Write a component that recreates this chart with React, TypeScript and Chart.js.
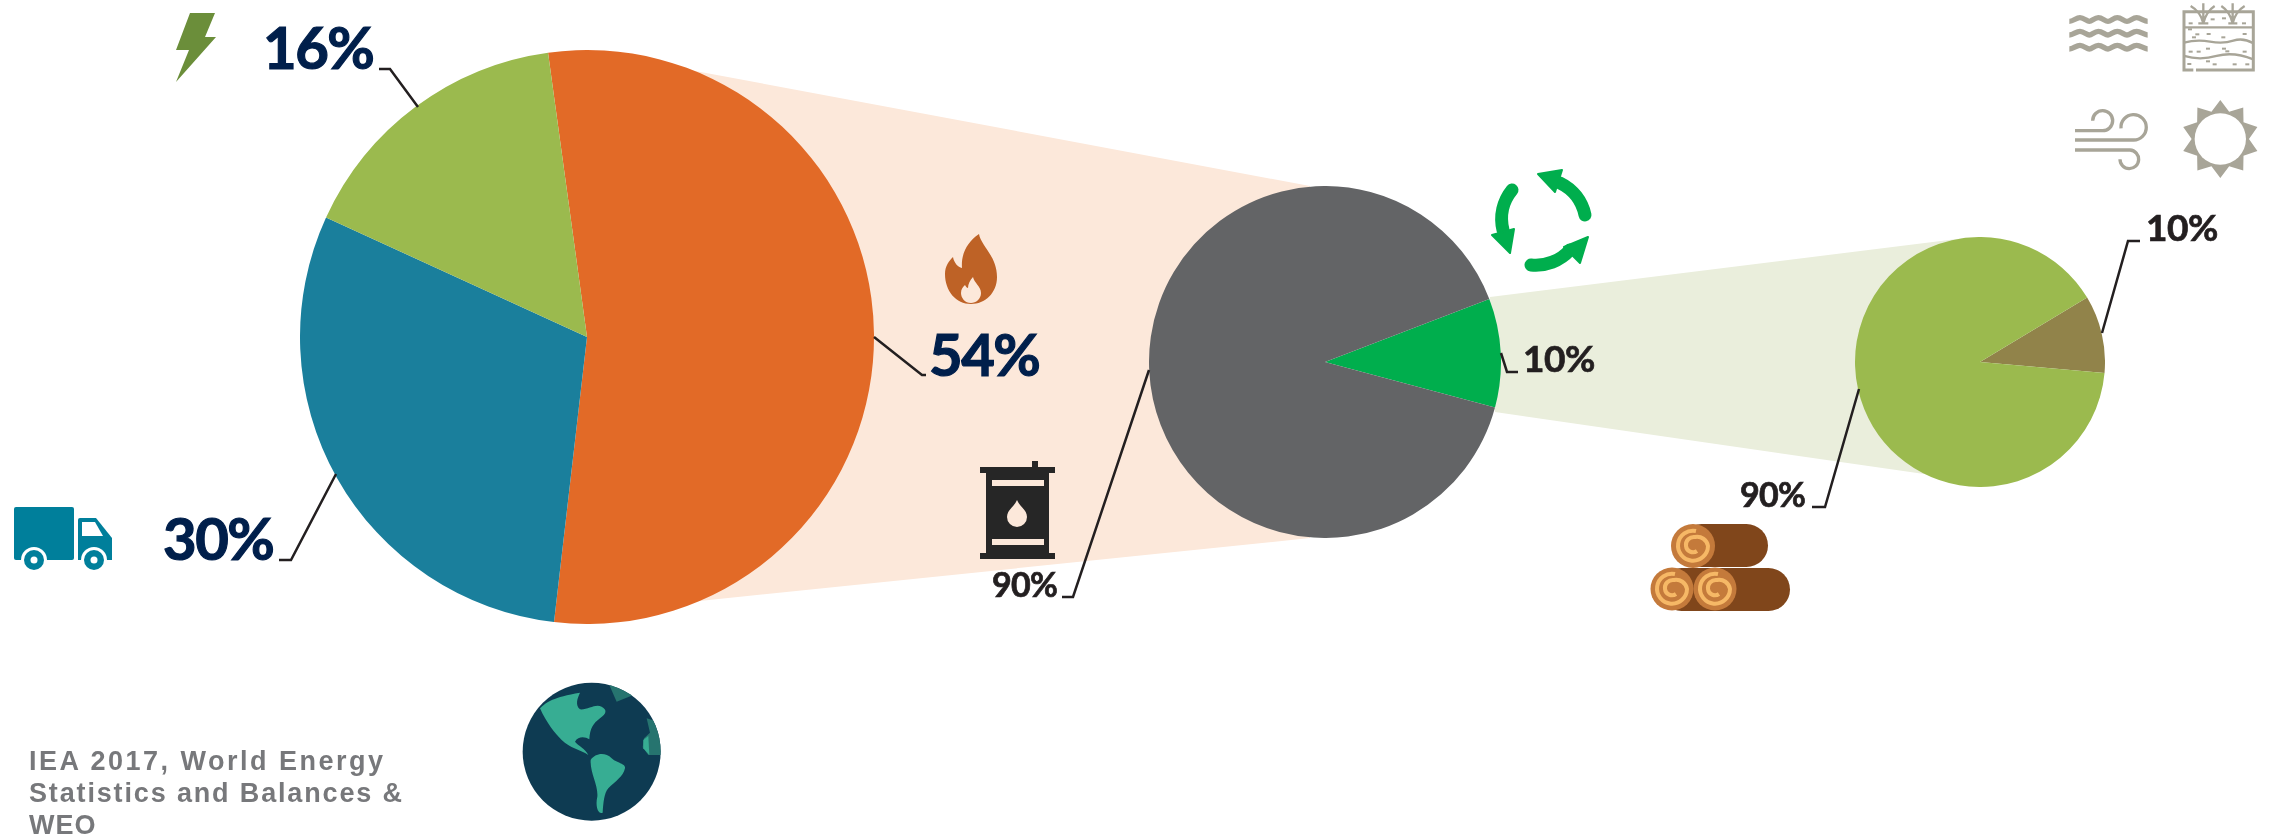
import React, { useEffect, useRef } from "react";
import { Chart, registerables } from "chart.js";

Chart.register(...registerables);

// Shares of final energy use, each pie breaking down one slice of the previous one.
const demandLabels = ["Heat", "Transport", "Electricity"];
const demandShares = [54, 30, 16];
const demandColors = ["#E26A27", "#1A7F9C", "#9BBA4E"];

const heatLabels = ["Renewable", "Fossil"];
const heatShares = [10, 90];
const heatColors = ["#00AE4D", "#636466"];

const renewableLabels = ["Other renewables", "Biomass"];
const renewableShares = [10, 90];
const renewableColors = ["#91834A", "#9BBA4E"];

const sourceLines = ["IEA 2017, World Energy", "Statistics and Balances &", "WEO"];
const sourceSpacing = [2.5, 1.85, 1];

const NAVY = "#001F4B";
const INK = "#231F20";
const STONE = "#A8A598";

const PIES = [
  { cx: 587, cy: 337, r: 287, rotation: -7.8, labels: demandLabels, data: demandShares, colors: demandColors },
  { cx: 1325, cy: 362, r: 176, rotation: 69, labels: heatLabels, data: heatShares, colors: heatColors },
  { cx: 1980, cy: 362, r: 125, rotation: 59, labels: renewableLabels, data: renewableShares, colors: renewableColors },
];

function PieCanvas({ pie }: { pie: (typeof PIES)[number] }) {
  const ref = useRef<HTMLCanvasElement>(null);
  useEffect(() => {
    const chart = new Chart(ref.current!, {
      type: "pie",
      data: {
        labels: pie.labels,
        datasets: [{ data: pie.data, backgroundColor: pie.colors, borderWidth: 0, hoverOffset: 0 }],
      },
      options: {
        animation: false,
        responsive: false,
        rotation: pie.rotation,
        layout: { padding: 0 },
        plugins: { legend: { display: false }, tooltip: { enabled: false } },
      },
    });
    return () => chart.destroy();
  }, [pie]);
  return (
    <canvas
      ref={ref}
      width={pie.r * 2}
      height={pie.r * 2}
      style={{ position: "absolute", left: pie.cx - pie.r, top: pie.cy - pie.r, width: pie.r * 2, height: pie.r * 2 }}
    />
  );
}

function Bolt() {
  return <polygon points="190,13 215,13 205,37 216,37 176,82 189,50 176,50" fill="#6B8E3A" />;
}

function Truck() {
  const c = "#007F9B";
  return (
    <g>
      <rect x={14} y={507} width={60} height={53} rx={2} fill={c} />
      <path d="M78 520 q0 -2 2 -2 H96 L112 538 V560 H78 Z" fill={c} />
      <path d="M82 522 H95 L103 536 H82 Z" fill="#fff" />
      {[34, 94].map((x) => (
        <g key={x}>
          <circle cx={x} cy={560} r={13} fill="#fff" />
          <circle cx={x} cy={560} r={10} fill={c} />
          <circle cx={x} cy={560} r={3.5} fill="#fff" />
        </g>
      ))}
    </g>
  );
}

function Flame() {
  return (
    <g>
      <path
        d="M979 234 C981 246 997 256 997 277 C997 293 985 304 971 304 C956 304 945 291 945 274 C945 266 949 261 953 257 C954 263 958 267 962 268 C961 255 966 243 979 234 Z"
        fill="#BE6226"
      />
      <path d="M973 277 C974 283 981 286 981 293 C981 299 976 303 971 303 C965 303 961 298 961 293 C961 289 963 287 965 285 C966 287 967 288 968 288 C968 284 970 280 973 277 Z" fill="#FCE8DA" />
    </g>
  );
}

function Barrel() {
  const c = "#262626";
  const band = "#FCE8DA";
  return (
    <g>
      <rect x={1032} y={461} width={6} height={7} fill={c} />
      <rect x={980} y={467} width={75} height={6} fill={c} />
      <rect x={986} y={473} width={63} height={80} fill={c} />
      <rect x={980} y={553} width={75} height={6} fill={c} />
      <rect x={992} y={480} width={52} height={6} fill={band} />
      <rect x={992} y={539} width={52} height={6} fill={band} />
      <path d="M1017 500 C1020 507 1027 510 1027 517 A10 10 0 0 1 1007 517 C1007 510 1014 507 1017 500 Z" fill={band} />
    </g>
  );
}

function RecycleArrows() {
  const c = "#00AE4D";
  return (
    <g fill={c} stroke="none">
      <path d="M1585 215 A46 46 0 0 0 1560 183" fill="none" stroke={c} strokeWidth={13} strokeLinecap="round" />
      <polygon points="1538,174 1562,170 1555,192" stroke={c} strokeWidth={2} strokeLinejoin="round" />
      <path d="M1512 190 A46 46 0 0 0 1503 230" fill="none" stroke={c} strokeWidth={13} strokeLinecap="round" />
      <polygon points="1492,235 1514,229 1510,253" stroke={c} strokeWidth={2} strokeLinejoin="round" />
      <path d="M1531 265 A46 46 0 0 0 1570 250" fill="none" stroke={c} strokeWidth={13} strokeLinecap="round" />
      <polygon points="1564,247 1588,237 1580,263" stroke={c} strokeWidth={2} strokeLinejoin="round" />
    </g>
  );
}

function LogEnd({ x, y, r }: { x: number; y: number; r: number }) {
  return (
    <g>
      <circle cx={x} cy={y} r={r} fill="#C47A3B" />
      <path
        d={`M${x + 3} ${y - 15} A15 15 0 1 0 ${x + 15} ${y} A11 11 0 0 0 ${x + 2} ${y - 9} A8 8 0 0 0 ${x - 7} ${y} A7 7 0 0 0 ${x + 4} ${y + 5}`}
        fill="none"
        stroke="#F6B866"
        strokeWidth={4}
      />
    </g>
  );
}

function Logs() {
  const body = "#80461B";
  return (
    <g>
      <rect x={1680} y={524} width={88} height={43} rx={21.5} fill={body} />
      <rect x={1660} y={568} width={130} height={43} rx={21.5} fill={body} />
      <LogEnd x={1693} y={546} r={22} />
      <LogEnd x={1672} y={589} r={21.5} />
      <LogEnd x={1715} y={589} r={21.5} />
    </g>
  );
}

function Globe() {
  return (
    <g transform="translate(500 660) scale(0.3333)">
      <defs>
        <clipPath id="earth">
          <circle cx={275} cy={275} r={207} />
        </clipPath>
      </defs>
      <circle cx={275} cy={275} r={207} fill="#0E3B52" />
      <g clipPath="url(#earth)">
        <path d="M325 68 L420 70 L400 105 L350 125 Z" fill="#26746F" />
        <path d="M440 175 L490 190 L490 285 L445 285 L428 262 L432 235 L450 218 Z" fill="#26746F" />
        <path
          d="M120 145 C140 125 160 112 240 98 C232 115 225 135 240 148 C265 150 285 130 305 140 C322 150 320 160 300 175 C280 190 270 205 268 238 C255 230 235 228 225 245 C235 258 255 265 265 285 C240 268 210 265 185 240 C165 220 140 190 120 145 Z"
          fill="#37AD93"
        />
        <path
          d="M272 300 C285 280 315 275 335 295 C350 310 378 310 375 325 C370 350 345 365 325 385 C312 400 310 430 308 458 C295 465 285 440 292 410 C295 375 270 340 272 300 Z"
          fill="#37AD93"
        />
        <path d="M430 240 L445 228 L448 285 L430 265 Z" fill="#37AD93" />
      </g>
    </g>
  );
}

function Waves() {
  const wave = (y: number) =>
    `M88 ${y} C100 ${y} 108 ${y - 11} 120 ${y - 11} S140 ${y} 148 ${y} S163 ${y - 11} 175 ${y - 11} S195 ${y} 204 ${y} S220 ${y - 11} 232 ${y - 11} S252 ${y} 261 ${y} S278 ${y - 11} 290 ${y - 11} S312 ${y} 323 ${y}`;
  return (
    <g fill="none" stroke={STONE} strokeWidth={16}>
      {[64, 105, 147].map((y) => (
        <path key={y} d={wave(y)} />
      ))}
    </g>
  );
}

function Soil() {
  const specks = [
    [452, 70], [518, 58], [552, 55], [612, 70], [450, 88], [472, 103], [462, 112], [506, 102], [550, 112], [614, 102],
    [452, 155], [476, 155], [504, 146], [552, 146], [562, 154], [614, 155], [448, 192], [504, 184], [524, 193], [584, 193], [622, 193],
  ];
  return (
    <g>
      <path d="M460 210 H432 V35 H640 V210 H468" fill="none" stroke={STONE} strokeWidth={9} />
      <path d="M432 82 H640" stroke={STONE} strokeWidth={7} />
      <path d="M432 128 Q470 118 510 125 T580 122 T640 130" fill="none" stroke={STONE} strokeWidth={7} />
      <path d="M432 168 Q480 182 530 168 T640 178" fill="none" stroke={STONE} strokeWidth={7} />
      <g fill="none" stroke={STONE} strokeWidth={7}>
        <path d="M490 70 V10 M490 70 Q482 35 452 18 M490 70 Q498 35 524 18" />
        <path d="M578 70 V10 M578 70 Q570 35 544 18 M578 70 Q586 35 614 18" />
        <path d="M475 70 H505 M565 70 H592" />
      </g>
      {specks.map(([x, y]) => (
        <rect key={`${x}-${y}`} x={x - 6} y={y - 3} width={12} height={6} fill={STONE} />
      ))}
    </g>
  );
}

function Wind() {
  return (
    <g fill="none" stroke={STONE} strokeWidth={10}>
      <path d="M105 392 H187 A30 30 0 1 0 158 362" />
      <path d="M105 420 H280 A38 38 0 1 0 243 385" />
      <path d="M105 450 H270 A28 28 0 1 1 240 478" />
    </g>
  );
}

function Sun() {
  const cx = 541;
  const cy = 417;
  const points: string[] = [];
  for (let i = 0; i < 20; i++) {
    const a = (i * 18 * Math.PI) / 180;
    const rad = i % 2 === 0 ? 117 : 86;
    points.push(`${cx + rad * Math.sin(a)},${cy - rad * Math.cos(a)}`);
  }
  return (
    <g>
      <polygon points={points.join(" ")} fill={STONE} />
      <circle cx={cx} cy={cy} r={77} fill="#fff" />
    </g>
  );
}

type Tag = { text: string; x: number; y: number; size: number; color: string; spacing: number; weight: number };

const tags: Tag[] = [
  { text: `${demandShares[2]}%`, x: 263, y: 69, size: 58, color: NAVY, spacing: -1.5, weight: 1.2 },
  { text: `${demandShares[1]}%`, x: 163, y: 560, size: 58, color: NAVY, spacing: -1.5, weight: 1.2 },
  { text: `${demandShares[0]}%`, x: 929, y: 376, size: 58, color: NAVY, spacing: -1.5, weight: 1.2 },
  { text: `${heatShares[1]}%`, x: 992, y: 597, size: 34, color: INK, spacing: -0.7, weight: 0.7 },
  { text: `${heatShares[0]}%`, x: 1523, y: 372, size: 37, color: INK, spacing: -0.4, weight: 0.7 },
  { text: `${renewableShares[0]}%`, x: 2146, y: 241, size: 37, color: INK, spacing: -0.4, weight: 0.7 },
  { text: `${renewableShares[1]}%`, x: 1740, y: 507, size: 34, color: INK, spacing: -0.7, weight: 0.7 },
];

const leaders = [
  "379,69 390,69 418,107",
  "279,560 291,560 336,474",
  "874,337 922,375 926,375",
  "1062,597 1073,597 1149,370",
  "1501,353 1507,372 1518,372",
  "2102,333 2128,241 2140,241",
  "1859,389 1825,507 1812,507",
];

export default function App() {
  useEffect(() => {
    document.body.style.margin = "0";
  }, []);
  const layer: React.CSSProperties = { position: "absolute", left: 0, top: 0 };
  return (
    <div style={{ position: "absolute", left: 0, top: 0, width: 2274, height: 836, overflow: "hidden", background: "#fff" }}>
      <svg width={2274} height={836} style={layer}>
        <polygon points="640,60 690,70 1310,186 1310,538 690,602 640,607" fill="#FCE8DA" />
        <polygon points="1490,297 1965,238 1945,477 1495,412" fill="#EAEEDC" />
      </svg>
      {PIES.map((pie) => (
        <PieCanvas key={pie.cx} pie={pie} />
      ))}
      <svg width={2274} height={836} style={layer}>
        {leaders.map((pts) => (
          <polyline key={pts} points={pts} fill="none" stroke={INK} strokeWidth={2.5} />
        ))}
        <Bolt />
        <Truck />
        <Flame />
        <Barrel />
        <RecycleArrows />
        <Logs />
        <Globe />
        <g transform="translate(2040 0) scale(0.3333)">
          <Waves />
          <Soil />
          <Wind />
          <Sun />
        </g>
        {tags.map((t) => (
          <text
            key={`${t.x}-${t.y}`}
            x={t.x}
            y={t.y}
            fontFamily="Lato"
            fontWeight={700}
            fontSize={t.size}
            fill={t.color}
            stroke={t.color}
            strokeWidth={t.weight}
            letterSpacing={t.spacing}
          >
            {t.text}
          </text>
        ))}
        {sourceLines.map((line, i) => (
          <text
            key={line}
            x={29}
            y={770 + i * 32}
            fontFamily="Liberation Sans"
            fontWeight={700}
            fontSize={27}
            letterSpacing={sourceSpacing[i]}
            fill="#77787B"
          >
            {line}
          </text>
        ))}
      </svg>
    </div>
  );
}
